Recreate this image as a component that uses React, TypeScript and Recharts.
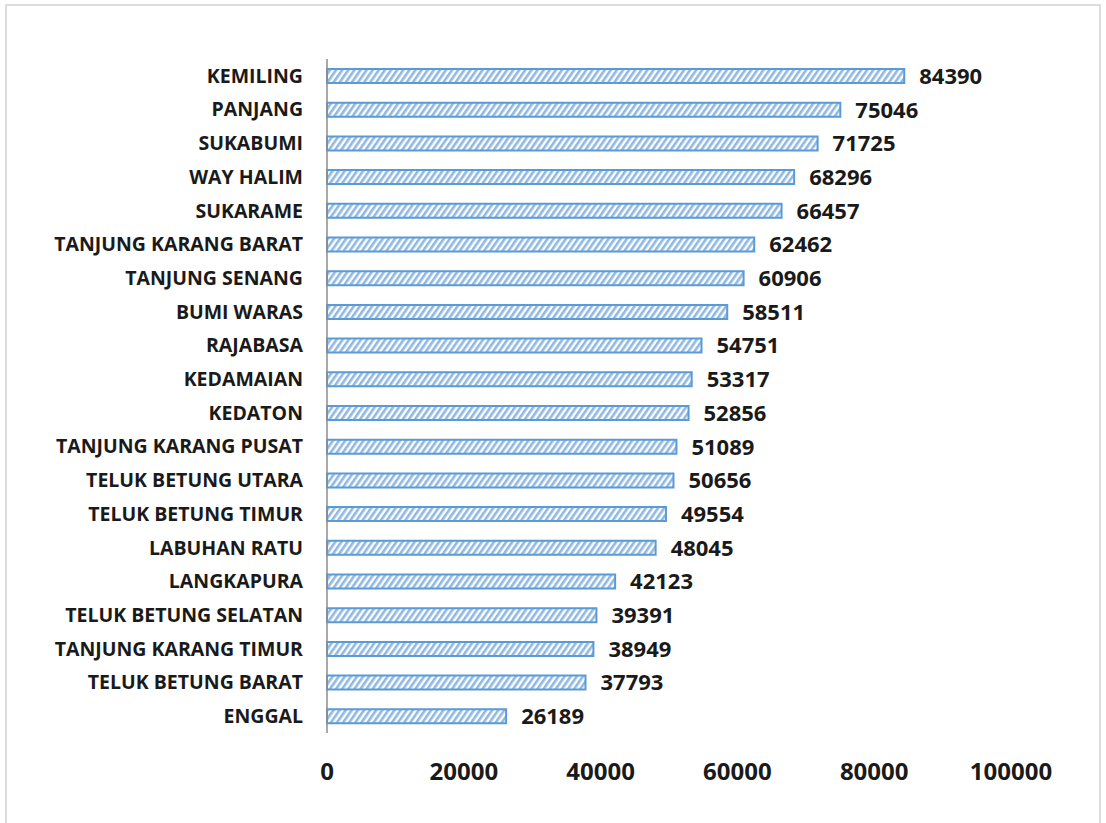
import React from 'react';
import { BarChart, Bar, XAxis, YAxis, LabelList } from 'recharts';

const districts = [
  'KEMILING', 'PANJANG', 'SUKABUMI', 'WAY HALIM', 'SUKARAME',
  'TANJUNG KARANG BARAT', 'TANJUNG SENANG', 'BUMI WARAS', 'RAJABASA', 'KEDAMAIAN',
  'KEDATON', 'TANJUNG KARANG PUSAT', 'TELUK BETUNG UTARA', 'TELUK BETUNG TIMUR', 'LABUHAN RATU',
  'LANGKAPURA', 'TELUK BETUNG SELATAN', 'TANJUNG KARANG TIMUR', 'TELUK BETUNG BARAT', 'ENGGAL',
];
const population = [
  84390, 75046, 71725, 68296, 66457,
  62462, 60906, 58511, 54751, 53317,
  52856, 51089, 50656, 49554, 48045,
  42123, 39391, 38949, 37793, 26189,
];
const xTicks = [0, 20000, 40000, 60000, 80000, 100000];

const data = districts.map((name, i) => ({ name, value: population[i] }));

const FONT = "'Open Sans', sans-serif";

export default function App() {
  return (
    <div
      style={{
        position: 'absolute', left: 5, top: 4, width: 1096, height: 830,
        border: '2px solid #dcdcdc', background: '#fff', boxSizing: 'border-box',
      }}
    >
      <BarChart
        width={1090}
        height={810}
        data={data}
        layout="vertical"
        margin={{ top: 53, right: 86, left: 10, bottom: 3 }}
        barSize={14}
      >
        <defs>
          <pattern id="hatch" width="5" height="5" patternUnits="userSpaceOnUse" patternTransform="rotate(35)">
            <rect width="5" height="5" fill="#ffffff" />
            <rect width="2.6" height="5" fill="#8fb8e3" />
          </pattern>
        </defs>
        <XAxis
          type="number"
          domain={[0, 100000]}
          ticks={xTicks}
          axisLine={false}
          tickLine={false}
          tickMargin={24}
          height={80}
          tick={{ fill: '#1a1a1a', fontSize: 24, fontWeight: 700, fontFamily: FONT }}
        />
        <YAxis
          type="category"
          dataKey="name"
          width={310}
          axisLine={{ stroke: '#8c8c8c', strokeWidth: 1.5 }}
          tickLine={false}
          tickMargin={18}
          interval={0}
          tick={{ fill: '#1a1a1a', fontSize: 19.5, fontWeight: 700, fontFamily: FONT }}
        />
        <Bar
          dataKey="value"
          fill="url(#hatch)"
          stroke="#5b9bd5"
          strokeWidth={2}
          isAnimationActive={false}
        >
          <LabelList
            dataKey="value"
            position="right"
            offset={15}
            style={{ fill: '#1a1a1a', fontSize: 22, fontWeight: 700, fontFamily: FONT }}
          />
        </Bar>
      </BarChart>
    </div>
  );
}
